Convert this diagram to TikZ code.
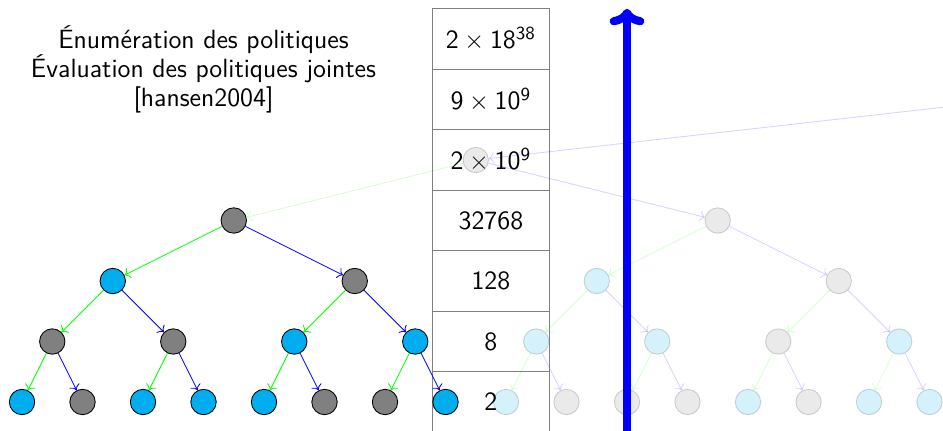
\documentclass[tikz,border=0pt]{standalone}
\usepackage{fontspec}
\usepackage{tikz}
\usetikzlibrary{arrows.meta,positioning}
\definecolor{cyanpol}{RGB}{0,174,239}
\tikzset{
    etat/.style={
        circle,
        draw,
        minimum size=4.2mm,
        inner sep=0pt
    },
    gris/.style={etat, fill=gray},
    bleu/.style={etat, fill=cyanpol},
    pale/.style={opacity=0.17},
    gauche/.style={->, green},
    droite/.style={->, blue},
    cellule/.style={
        draw=gray,
        minimum width=19.2mm,
        minimum height=10mm,
        inner sep=0pt,
        font=\sffamily\fontsize{12.4}{13.6}\selectfont
    },
    titre/.style={
        align=center,
        font=\sffamily\fontsize{12.4}{13.6}\selectfont
    },
    fleche/.style={
        -{To[scale=0.78]},
        line width=3.8pt,
        blue
    }
}

\begin{document}
\begin{tikzpicture}

\useasboundingbox (-0.364,-0.479) rectangle (15.223,6.645);
\clip (-0.364,-0.479) rectangle (15.223,6.645);

\node[titre] (texte) at (3,5.5)
    {Énumération des politiques\\Évaluation des politiques jointes\\{[}hansen2004]};

% arbre estompe (droite)
\foreach \n/\x/\y/\s in {0/11.5/3/gris,1/9.5/2/bleu,2/13.5/2/gris,
    3/8.5/1/bleu,4/10.5/1/bleu,5/12.5/1/gris,6/14.5/1/bleu,
    7/8/0/bleu,8/9/0/gris,9/10/0/gris,10/11/0/gris,
    11/12/0/bleu,12/13/0/gris,13/14/0/bleu,14/15/0/bleu}
    \node[\s, pale] (d\n) at (\x,\y) {};
\foreach \p/\a/\b in {0/1/2,1/3/4,2/5/6,3/7/8,4/9/10,5/11/12,6/13/14} {
    \draw[gauche, pale] (d\p) -- (d\a);
    \draw[droite, pale] (d\p) -- (d\b);
}

% tableau des tailles
\node[cellule] (c6) at (7.75,6) {$\mathsf{2\times 18^{38}}$};
\node[cellule] (c5) at (7.75,5) {$\mathsf{9\times 10^{9}}$};
\node[cellule] (c4) at (7.75,4) {$\mathsf{2\times 10^{9}}$};
\node[cellule] (c3) at (7.75,3) {32768};
\node[cellule] (c2) at (7.75,2) {128};
\node[cellule] (c1) at (7.75,1) {8};
\node[cellule] (c0) at (7.75,0) {2};

% arbre complet (gauche)
\foreach \n/\x/\y/\s in {0/3.5/3/gris,1/1.5/2/bleu,2/5.5/2/gris,
    3/0.5/1/gris,4/2.5/1/gris,5/4.5/1/bleu,6/6.5/1/bleu,
    7/0/0/bleu,8/1/0/gris,9/2/0/bleu,10/3/0/bleu,
    11/4/0/bleu,12/5/0/gris,13/6/0/gris,14/7/0/bleu}
    \node[\s] (g\n) at (\x,\y) {};
\foreach \p/\a/\b in {0/1/2,1/3/4,2/5/6,3/7/8,4/9/10,5/11/12,6/13/14} {
    \draw[gauche] (g\p) -- (g\a);
    \draw[droite] (g\p) -- (g\b);
}

% noeud au-dessus des deux arbres
\node[gris, pale] (haut) at (7.5,4) {};
\coordinate (ancetre) at (16.36,5);
\draw[droite, pale] (ancetre) -- (haut);
\draw[gauche, pale] (haut) -- (g0);
\draw[droite, pale] (haut) -- (d0);

\coordinate (bas) at (10,-0.7);
\coordinate (sommet) at (10,6.5);
\draw[fleche] (bas) -- (sommet);

\end{tikzpicture}
\end{document}
